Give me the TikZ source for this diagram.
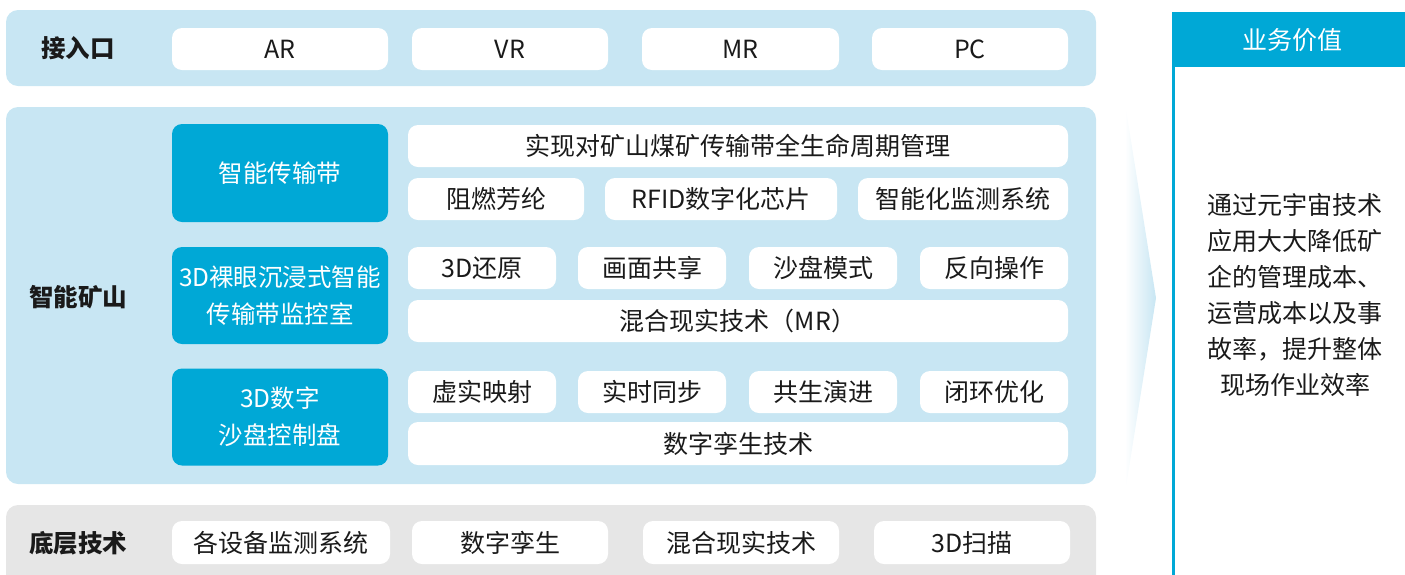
\documentclass[tikz,border=0pt]{standalone}
\usepackage{fontspec}
\setmainfont{Noto Sans CJK SC}
\usetikzlibrary{shadings}
\definecolor{bandblue}{HTML}{C8E6F3}
\definecolor{deepblue}{HTML}{00A8D6}
\definecolor{bandgray}{HTML}{E6E6E6}
\definecolor{txt}{HTML}{1A1A1A}
\newcommand{\fs}{\fontsize{25}{30}\selectfont}
\newcommand{\fsb}{\fontsize{24.5}{30}\selectfont}
\tikzset{
  band/.style={rounded corners=12pt, draw=none},
  wbox/.style={fill=white, rounded corners=10pt, inner sep=0pt, text=txt, font=\fs, minimum height=42pt},
  bbox/.style={fill=deepblue, rounded corners=10pt, inner sep=0pt, text=white, font=\fontsize{24.5}{37}\selectfont, minimum width=216pt, align=center},
  lbl/.style={text=txt, font=\fsb\bfseries, inner sep=0pt},
}
\begin{document}
\begin{tikzpicture}[x=1pt,y=-1pt]
\useasboundingbox (0,0) rectangle (1405,574);
\clip (0,0) rectangle (1405,574);
% bands
\fill[band, bandblue] (6,10) rectangle (1096,86);
\fill[band, bandblue] (6,107) rectangle (1096,484);
\fill[band, bandgray] (6,505) rectangle (1096,600);
% labels
\node[lbl] (l1) at (78,48) {接入口};
\node[lbl] (l2) at (78,297) {智能矿山};
\node[lbl] (l3) at (78,543) {底层技术};
% top row
\node[wbox, minimum width=216pt] (ar) at (280,49) {AR};
\node[wbox, minimum width=196pt] (vr) at (510,49) {VR};
\node[wbox, minimum width=197pt] (mr) at (740.5,49) {MR};
\node[wbox, minimum width=196pt] (pc) at (970,49) {PC};
% blue boxes
\node[bbox, minimum height=98pt] (b1) at (280,173) {智能传输带};
\node[bbox, minimum height=97pt] (b2) at (280,295.5) {3D裸眼沉浸式智能\\传输带监控室};
\node[bbox, minimum height=97pt] (b3) at (280,417) {3D数字\\沙盘控制盘};
% group 1
\node[wbox, minimum width=660pt] (r1) at (738,146) {实现对矿山煤矿传输带全生命周期管理};
\node[wbox, minimum width=176pt] (r2a) at (496,199) {阻燃芳纶};
\node[wbox, minimum width=232pt] (r2b) at (721,199) {RFID数字化芯片};
\node[wbox, minimum width=210pt] (r2c) at (963,199) {智能化监测系统};
% group 2
\node[wbox, minimum width=148pt] (r3a) at (482,268) {3D还原};
\node[wbox, minimum width=148pt] (r3b) at (652,268) {画面共享};
\node[wbox, minimum width=148pt] (r3c) at (823,268) {沙盘模式};
\node[wbox, minimum width=148pt] (r3d) at (994,268) {反向操作};
\node[wbox, minimum width=660pt] (r4) at (738,321) {混合现实技术（MR）};
% group 3
\node[wbox, minimum width=148pt] (r5a) at (482,392) {虚实映射};
\node[wbox, minimum width=148pt] (r5b) at (652,392) {实时同步};
\node[wbox, minimum width=148pt] (r5c) at (823,392) {共生演进};
\node[wbox, minimum width=148pt] (r5d) at (994,392) {闭环优化};
\node[wbox, minimum width=660pt, minimum height=43pt] (r6) at (738,443.5) {数字孪生技术};
% bottom row
\node[wbox, minimum width=218pt, minimum height=43pt] (d1) at (281,542.5) {各设备监测系统};
\node[wbox, minimum width=196pt, minimum height=43pt] (d2) at (510,542.5) {数字孪生};
\node[wbox, minimum width=196pt, minimum height=43pt] (d3) at (741,542.5) {混合现实技术};
\node[wbox, minimum width=196pt, minimum height=43pt] (d4) at (972,542.5) {3D扫描};
% gradient arrow
\shade[left color=white, right color=bandblue] (1125,103) -- (1156,298) -- (1125,493) -- cycle;
% right panel
\fill[deepblue] (1172,12) rectangle (1410,67);
\draw[deepblue, line width=2.7pt] (1173.3,12) -- (1173.3,580);
\node[text=white, font=\fs, inner sep=0pt] (hdr) at (1292,40) {业务价值};
\node[text=txt, font=\fontsize{25}{36}\selectfont, align=center, inner sep=0pt] (val) at (1295,295)
  {通过元宇宙技术\\应用大大降低矿\\企的管理成本、\\运营成本以及事\\故率，提升整体\\现场作业效率};
\end{tikzpicture}
\end{document}
